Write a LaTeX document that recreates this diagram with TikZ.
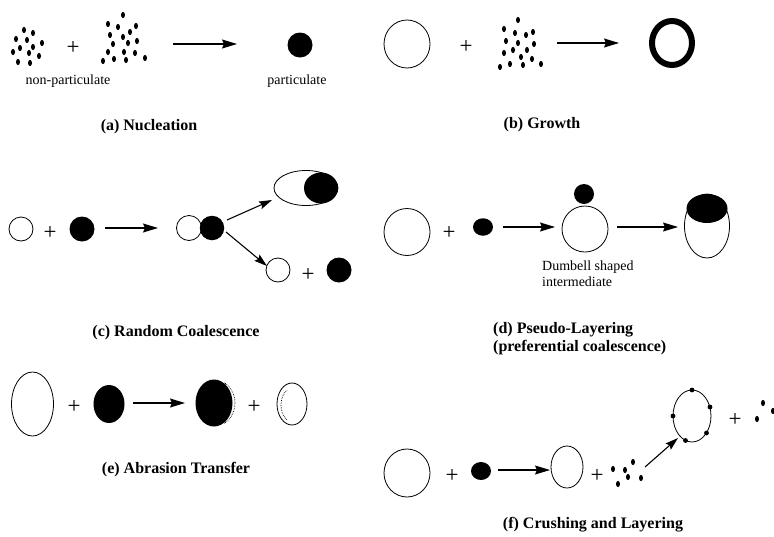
\documentclass[tikz,border=0pt]{standalone}
\usepackage{fontspec}
\setmainfont{Liberation Serif}
\usetikzlibrary{shapes.geometric,arrows.meta}
\begin{document}
\begin{tikzpicture}[x=1pt,y=-1pt,
  outl/.style={draw, ellipse, line width=0.8pt, inner sep=0pt},
  blk/.style={fill=black, ellipse, inner sep=0pt},
  plusg/.style={font=\fontsize{23}{23}\selectfont, inner sep=0pt},
  ttl/.style={font=\bfseries\fontsize{16}{18.5}\selectfont, inner sep=0pt},
  lbl/.style={font=\fontsize{14}{16}\selectfont, inner sep=0pt},
  arr/.style={-{Stealth[length=15pt,width=9pt,inset=2pt]}, line width=1.1pt},
  sarr/.style={-{Stealth[length=13pt,width=8pt,inset=2pt]}, line width=1.1pt},
  bump/.style={fill=black}
]
\useasboundingbox (0,0) rectangle (774,536);
\fill[white] (0,0) rectangle (774,536);
\def\dr{ellipse [x radius=2pt, y radius=3.1pt]}

% ---------- (a) Nucleation ----------
\foreach \x/\y in {24/30,33/33,16/39,27/40,42/43,20/48,33/47,13/52,29/53,39/56,18/62,30/63}
  \fill (\x,\y) ellipse [x radius=2pt, y radius=3.1pt];
\node[plusg] (ap) at (73,48) {+};
\foreach \x/\y in {123/15,108/24,118/27,136/26,110/35,123/37,130/32,113/44,128/43,137/41,108/52,124/52,135/53,103/61,114/59,126/60,145/58}
  \fill (\x,\y) ellipse [x radius=2pt, y radius=3.1pt];
\coordinate (a1) at (173,44);
\coordinate (a2) at (237,44);
\draw[arr] (a1) -- (a2);
\node[blk, minimum size=25pt] (ap2) at (300,45) {};
\node[lbl] (anp) at (68,81) {non-particulate};
\node[lbl] (apt) at (297,81) {particulate};
\node[ttl] (at) at (149,127) {(a) Nucleation};

% ---------- (b) Growth ----------
\node[outl, minimum width=46pt, minimum height=48pt] (b1) at (407,44) {};
\node[plusg] (bp) at (466,47) {+};
\foreach \x/\y in {518/20,504/29,515/33,526/35,533/32,506/41,518/43,534/44,504/53,513/50,521/57,527/50,532/59,500/67,510/64,523/65,541/64}
  \fill (\x,\y) ellipse [x radius=2pt, y radius=3.1pt];
\coordinate (b3) at (557,43);
\coordinate (b4) at (619,43);
\draw[arr] (b3) -- (b4);
\node[draw, ellipse, line width=6pt, minimum width=40pt, minimum height=44pt, inner sep=0pt] (b2) at (672,43) {};
\node[ttl] (bt) at (542,125) {(b) Growth};

% ---------- (c) Random Coalescence ----------
\node[outl, minimum size=24pt] (c1) at (21,229) {};
\node[plusg] (cp1) at (50,233) {+};
\node[blk, minimum size=25pt] (c2) at (82,229) {};
\coordinate (ca1) at (105,228);
\coordinate (ca2) at (158,228);
\draw[arr] (ca1) -- (ca2);
\node[outl, minimum size=25pt] (c3) at (189,228) {};
\node[blk, minimum size=24.5pt] (c4) at (212,228) {};
\coordinate (cu1) at (227,220);
\coordinate (cu2) at (272,200);
\draw[sarr] (cu1) -- (cu2);
\coordinate (cd1) at (226,232);
\coordinate (cd2) at (267,266);
\draw[sarr] (cd1) -- (cd2);
\node[outl, minimum width=64pt, minimum height=35pt] (c5) at (306,188) {};
\node[blk, minimum width=34pt, minimum height=31pt] (c6) at (321,188) {};
\node[outl, minimum size=24pt] (c7) at (278,270) {};
\node[plusg] (cp2) at (308,275) {+};
\node[blk, minimum size=25pt] (c8) at (339,270) {};
\node[ttl] (ct) at (176,333) {(c) Random Coalescence};

% ---------- (d) Pseudo-Layering ----------
\node[outl, minimum width=46pt, minimum height=47pt] (d1) at (407,232) {};
\node[plusg] (dp) at (449,233) {+};
\node[blk, minimum width=20pt, minimum height=17.5pt] (d2) at (483,227) {};
\coordinate (da1) at (503,227);
\coordinate (da2) at (555,227);
\draw[arr] (da1) -- (da2);
\node[outl, minimum size=46pt] (d3) at (585,229) {};
\node[blk, minimum size=20pt] (d4) at (584,194) {};
\coordinate (da3) at (617,227);
\coordinate (da4) at (678,227);
\draw[arr] (da3) -- (da4);
\node[outl, minimum width=45pt, minimum height=64pt] (d5) at (707,226) {};
\node[blk, minimum width=41pt, minimum height=29pt] (d6) at (707,208.5) {};
\node[lbl, anchor=west, align=left] (dl) at (542,274) {Dumbell shaped\\intermediate};
\node[ttl, anchor=west, align=left] (dt) at (493,338.5) {(d) Pseudo-Layering\\(preferential coalescence)};

% ---------- (e) Abrasion Transfer ----------
\node[outl, minimum width=42pt, minimum height=64pt] (e1) at (32.5,404) {};
\node[plusg] (ep1) at (74,407) {+};
\node[blk, minimum width=31pt, minimum height=38pt] (e2) at (109,404) {};
\coordinate (ea1) at (133,403);
\coordinate (ea2) at (185,403);
\draw[arr] (ea1) -- (ea2);
\node[blk, minimum width=37pt, minimum height=47pt] (e3) at (214,403) {};
\begin{scope}
  \clip (224,360) rectangle (250,450);
  \draw[densely dotted, line width=0.7pt] (214.5,403) ellipse [x radius=20.5pt, y radius=23pt];
\end{scope}
\node[plusg] (ep2) at (254,407) {+};
\node[outl, minimum width=30pt, minimum height=42pt] (e4) at (292,404) {};
\begin{scope}
  \clip (270,360) rectangle (287,450);
  \draw[densely dotted, line width=0.7pt] (293,405) ellipse [x radius=12pt, y radius=17pt];
\end{scope}
\node[ttl] (et) at (176,470) {(e) Abrasion Transfer};

% ---------- (f) Crushing and Layering ----------
\node[outl, minimum width=46pt, minimum height=48pt] (f1) at (407,473) {};
\node[plusg] (fp1) at (452,476) {+};
\node[blk, minimum width=20pt, minimum height=18pt] (f2) at (481,471) {};
\coordinate (fa1) at (498,470);
\coordinate (fa2) at (550,470);
\draw[arr] (fa1) -- (fa2);
\node[outl, minimum width=32pt, minimum height=42pt] (f3) at (567,467) {};
\node[plusg] (fp2) at (597,476) {+};
\foreach \x/\y in {613/469,625/470,633/462,628/477,641/478,618/484}
  \fill (\x,\y) ellipse [x radius=2pt, y radius=3.1pt];
\coordinate (fa3) at (645,467);
\coordinate (fa4) at (678,438);
\draw[sarr] (fa3) -- (fa4);
\node[outl, minimum width=38pt, minimum height=52pt] (f4) at (692,416) {};
\foreach \x/\y in {692/390,710/407,706.5/433,685.5/440.5,673/416}
  \fill[bump] (\x,\y) circle [radius=2.4pt];
\node[plusg] (fp3) at (735,420) {+};
\foreach \x/\y in {763/403,757/419,773/411}
  \fill (\x,\y) ellipse [x radius=2pt, y radius=3.1pt];
\node[ttl] (ft) at (593,525) {(f) Crushing and Layering};
\end{tikzpicture}
\end{document}
